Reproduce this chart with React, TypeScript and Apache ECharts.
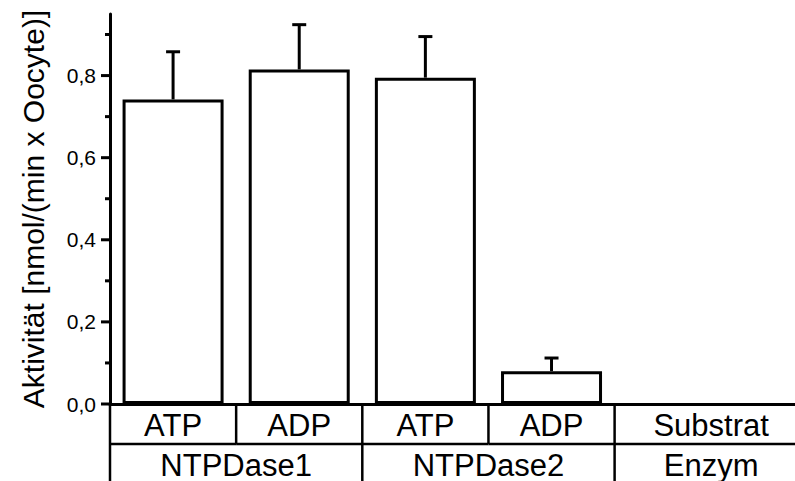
import React, { useEffect, useRef } from "react";
import * as echarts from "echarts";

// Sub-row (Substrat) cells and their spans along the x scale (category units)
const subLabels = ["ATP", "ADP", "ATP", "ADP", "Substrat"];
const subSpans = [[0, 1], [1, 2], [2, 3], [3, 4], [4, 5.53]];
// Bottom row (Enzym) cells
const groupLabels = ["NTPDase1", "NTPDase2", "Enzym"];
const groupSpans = [[0, 2], [2, 4], [4, 5.53]];

// Bars
const barPositions = [0.5, 1.5, 2.5, 3.5];
const activity = [0.742, 0.815, 0.795, 0.08];
const errors = [0.116, 0.109, 0.1, 0.032];

// y axis ticks
const yTickValues = [0, 0.1, 0.2, 0.3, 0.4, 0.5, 0.6, 0.7, 0.8, 0.9];
const yMajorTicks = [0, 0.2, 0.4, 0.6, 0.8];

const FONT = "'Liberation Sans', Arial, Helvetica, sans-serif";

export default function App() {
  const ref = useRef<HTMLDivElement>(null);

  useEffect(() => {
    if (!ref.current) return;
    const chart = echarts.init(ref.current, null, { renderer: "svg" });

    const tableData: number[][] = [];
    const tableLabels: string[] = [];
    subSpans.forEach((s, i) => {
      tableData.push([s[0], s[1], 0]);
      tableLabels.push(subLabels[i]);
    });
    groupSpans.forEach((s, i) => {
      tableData.push([s[0], s[1], 1]);
      tableLabels.push(groupLabels[i]);
    });

    const ROW_H = 40;
    const LINE_W = 2.5;

    const option: any = {
      animation: false,
      backgroundColor: "#fff",
      grid: { left: 110, top: 14, bottom: 77, right: 0, containLabel: false },
      xAxis: {
        type: "value",
        min: 0,
        max: 5.43,
        axisLine: { show: true, lineStyle: { color: "#000", width: 3 } },
        axisTick: { show: false },
        axisLabel: { show: false },
        splitLine: { show: false },
      },
      yAxis: {
        type: "value",
        min: 0,
        max: 0.95,
        interval: 0.2,
        name: "Aktivität [nmol/(min x Oocyte)]",
        nameLocation: "middle",
        nameRotate: 90,
        nameGap: 62,
        nameTextStyle: { color: "#000", fontSize: 30, fontFamily: FONT },
        axisLine: { show: true, lineStyle: { color: "#000", width: 3 } },
        axisTick: { show: false },
        splitLine: { show: false },
        axisLabel: {
          color: "#000",
          fontSize: 21,
          fontFamily: FONT,
          margin: 14,
          formatter: (v: number) =>
            yMajorTicks.some((m) => Math.abs(m - v) < 1e-6)
              ? v.toFixed(1).replace(".", ",")
              : "",
        },
      },
      series: [
        {
          type: "bar",
          data: barPositions.map((x, i) => [x, activity[i]]),
          barWidth: 101,
          itemStyle: { color: "#fff", borderColor: "#000", borderWidth: 3 },
          z: 2,
        },
        {
          type: "custom",
          clip: false,
          z: 3,
          encode: { x: 0, y: 1 },
          data: barPositions.map((x, i) => [x, activity[i], errors[i]]),
          renderItem: (params: any, api: any) => {
            const x = api.value(0);
            const v = api.value(1);
            const e = api.value(2);
            const base = api.coord([x, v]);
            const top = api.coord([x, v + e]);
            const style = { stroke: "#000", lineWidth: 3 };
            return {
              type: "group",
              children: [
                { type: "line", shape: { x1: base[0], y1: base[1], x2: top[0], y2: top[1] }, style },
                { type: "line", shape: { x1: top[0] - 7, y1: top[1], x2: top[0] + 7, y2: top[1] }, style },
              ],
            };
          },
        },
        {
          type: "custom",
          clip: false,
          z: 3,
          encode: { x: 0, y: 1 },
          data: yTickValues.map((v) => [0, v]),
          renderItem: (params: any, api: any) => {
            const v = api.value(1);
            const p = api.coord([0, v]);
            const major = yMajorTicks.some((m) => Math.abs(m - v) < 1e-6);
            const len = major ? 9 : 5;
            return {
              type: "line",
              shape: { x1: p[0] - len, y1: p[1], x2: p[0], y2: p[1] },
              style: { stroke: "#000", lineWidth: 3 },
            };
          },
        },
        {
          type: "custom",
          clip: false,
          z: 3,
          encode: { x: [0, 1], y: 2 },
          data: tableData,
          renderItem: (params: any, api: any) => {
            const x0 = api.value(0);
            const x1 = api.value(1);
            const row = api.value(2);
            const p0 = api.coord([x0, 0]);
            const p1 = api.coord([x1, 0]);
            const top = p0[1] + row * ROW_H;
            const bottom = top + ROW_H;
            const style = { stroke: "#000", lineWidth: LINE_W };
            const children: any[] = [
              { type: "line", shape: { x1: p0[0], y1: top, x2: p0[0], y2: bottom }, style },
            ];
            if (row === 0) {
              children.push({
                type: "line",
                shape: { x1: p0[0], y1: bottom, x2: p1[0], y2: bottom },
                style,
              });
            }
            children.push({
              type: "text",
              x: (p0[0] + p1[0]) / 2,
              y: (top + bottom) / 2 + 1,
              style: {
                text: tableLabels[params.dataIndex],
                fill: "#000",
                fontSize: 31,
                fontFamily: FONT,
                align: "center",
                verticalAlign: "middle",
              },
            });
            return { type: "group", children };
          },
        },
      ],
    };

    chart.setOption(option);
    return () => chart.dispose();
  }, []);

  return (
    <div
      ref={ref}
      style={{ position: "fixed", left: 0, top: 0, width: 795, height: 481, background: "#fff" }}
    />
  );
}
